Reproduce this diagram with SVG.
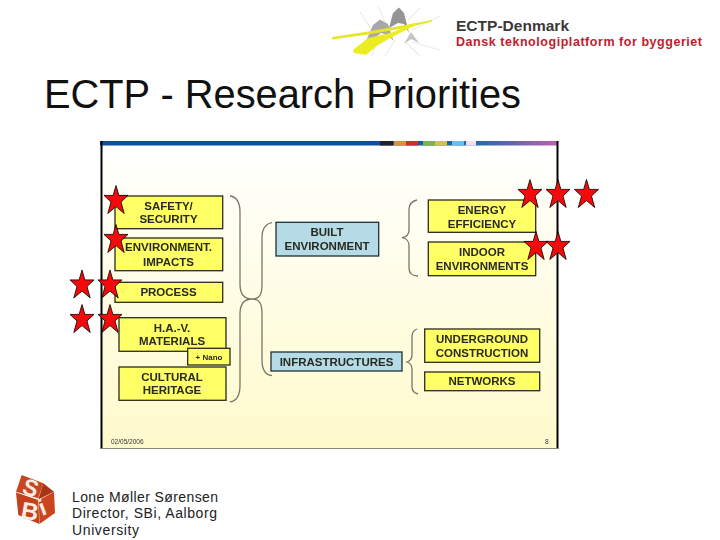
<svg xmlns="http://www.w3.org/2000/svg" width="720" height="540" viewBox="0 0 720 540">
<style>
.t{font-family:"Liberation Sans",Arial,sans-serif}
.b{font-weight:bold;font-size:11.500px;fill:#2a2a20;text-anchor:middle}
.y{fill:#ffff66;stroke:#2b2b1a;stroke-width:1.3}
.c{fill:#b5dbe6;stroke:#20303a;stroke-width:1.3}
.br{fill:none;stroke:#77786a;stroke-width:1.3}
.s{fill:#f40a0a;stroke:#000;stroke-width:.8}
</style>
<defs>
<linearGradient id="bg" x1="0" y1="0" x2="0" y2="1"><stop offset="0" stop-color="#ffffff"/><stop offset=".3" stop-color="#fffef0"/><stop offset="1" stop-color="#fffacb"/></linearGradient>
<linearGradient id="bar" x1="0" y1="0" x2="1" y2="0"><stop offset="0" stop-color="#0b4f9e"/><stop offset=".6" stop-color="#0b4f9e"/><stop offset=".84" stop-color="#2f6aa8"/><stop offset="1" stop-color="#c060b0"/></linearGradient>
<filter id="soft" x="-20%" y="-40%" width="140%" height="180%"><feGaussianBlur stdDeviation=".45"/></filter>
<filter id="soft2" x="-20%" y="-40%" width="140%" height="180%"><feGaussianBlur stdDeviation=".5"/></filter>
<polygon id="star" points="0,-14.5 2.9,-4.6 12,-4.6 5,2 8.2,13.5 0,6.6 -8.2,13.5 -5,2 -12,-4.6 -2.9,-4.6"/>
</defs>
<rect width="720" height="540" fill="#fff"/>

<g id="header-logo">
<g filter="url(#soft2)">
<g stroke="#ecece6" stroke-width="1.200" fill="none"><path d="M372 30L360 12M385 22L378 6M408 20L420 8M412 30L440 16M395 40L385 56M405 42L420 56M412 42L440 50M375 46L372 56"/></g>
<path d="M366 41L373 25L380 19.500L388 24L393.500 41L388 35L381 33L371 41Z" fill="#a8a8a8"/>
<path d="M389 28L393 13L399 7.500L404 13L409 33L404 24L398 23Z" fill="#949494"/>
<path d="M404 44L411 32L419 43L411 39Z" fill="#c4c4c4"/>
<path d="M332 37L368 31.500L408 24.500L432 20L432 21.500L408 27.500L368 34.500L332 39.500Z" fill="#e6e626"/>
<path d="M353 50L368 38L392 32.500L415 23L416 25L394 36L378 45L366 55L354 53Z" fill="#ecec22"/>
</g>
<text class="t" x="456" y="31" font-size="15.500" font-weight="bold" fill="#3a3a3a" textLength="113" lengthAdjust="spacing">ECTP-Denmark</text>
<text class="t" x="456" y="45.500" font-size="12.500" font-weight="bold" fill="#c0202c" textLength="246" lengthAdjust="spacing">Dansk teknologiplatform for byggeriet</text>
</g>

<text id="title" class="t" x="44" y="108" font-size="39.800" fill="#111">ECTP - Research Priorities</text>

<g id="slide">
<rect x="101" y="142" width="456" height="306.500" fill="url(#bg)"/>
<rect x="100" y="141" width="458" height="4.500" fill="url(#bar)"/>
<g filter="url(#soft)">
<rect x="380" y="141" width="13" height="4.500" fill="#222"/><rect x="394" y="141" width="12" height="4.500" fill="#e0903a"/><rect x="406" y="141" width="12" height="4.500" fill="#d82c2c"/><rect x="423" y="141" width="12" height="4.500" fill="#7ab648"/><rect x="435" y="141" width="12" height="4.500" fill="#d8c050"/><rect x="452" y="141" width="12" height="4.500" fill="#6cc0e8"/><rect x="466" y="141" width="10" height="4.500" fill="#f0e0f0"/>
</g>
<rect x="100.500" y="141" width="2" height="308" fill="#000"/>
<rect x="556.500" y="141" width="2" height="308" fill="#000"/>
<rect x="101" y="448" width="457" height="1" fill="#88887a"/>
<text class="t" filter="url(#soft)" x="111" y="444" font-size="6.500" fill="#334">02/05/2006</text>
<text class="t" filter="url(#soft)" x="545" y="444" font-size="6.500" fill="#334">8</text>
</g>

<g id="connectors">
<path class="br" d="M230 196C237 197 240 202 240 212L240 284C240 294 244 299 252 299C244 299 240 304 240 314L240 385C240 396 237 401 230 402"/>
<path class="br" d="M272 222.700C265 224 262 229 262 238L262 284C262 294 260 299 252 299C260 299 262 304 262 314L262 360C262 370 265 375 272 375.700"/>
<path class="br" d="M417 200C412 201 409 204 409 210L409 230C409 235 406 237 402 237.700C406 238 409 241 409 246L409 268C409 273 412 276 418 276"/>
<path class="br" d="M417 329C414 330 412 332 412 337L412 355C412 359 410 361 407 362C410 363 412 365 412 369L412 387C412 391 414 393 418 394"/>
</g>

<g id="safety"><rect class="y" x="115" y="196" width="107.700" height="32.700"/><text class="t b" filter="url(#soft)" x="168.500" y="210">SAFETY/</text><text class="t b" filter="url(#soft)" x="168.500" y="223">SECURITY</text></g>
<g id="environment"><rect class="y" x="115" y="238" width="107.700" height="32.700"/><text class="t b" filter="url(#soft)" x="168.500" y="251">ENVIRONMENT.</text><text class="t b" filter="url(#soft)" x="168.500" y="266">IMPACTS</text></g>
<g id="process"><rect class="y" x="115" y="282.300" width="107.700" height="20"/><text class="t b" filter="url(#soft)" x="168.500" y="296">PROCESS</text></g>
<g id="materials"><rect class="y" x="119" y="317.700" width="107" height="33.600"/><text class="t b" filter="url(#soft)" x="172" y="332">H.A.-V.</text><text class="t b" filter="url(#soft)" x="172" y="345">MATERIALS</text></g>
<g id="heritage"><rect class="y" x="119" y="367" width="107" height="33.300"/><text class="t b" filter="url(#soft)" x="172" y="381">CULTURAL</text><text class="t b" filter="url(#soft)" x="172" y="394">HERITAGE</text></g>
<g id="nano"><rect class="y" x="187.700" y="348.300" width="42.300" height="16.700"/><text class="t" filter="url(#soft)" x="209" y="360" font-size="8" font-weight="bold" fill="#2a2a20" text-anchor="middle">+ Nano</text></g>
<g id="built"><rect class="c" x="276" y="222.300" width="102.700" height="33.700"/><text class="t b" filter="url(#soft)" x="327" y="236">BUILT</text><text class="t b" filter="url(#soft)" x="327" y="250">ENVIRONMENT</text></g>
<g id="infrastructures"><rect class="c" x="271" y="352" width="131" height="19"/><text class="t b" filter="url(#soft)" x="336.500" y="366">INFRASTRUCTURES</text></g>
<g id="energy"><rect class="y" x="428.300" y="200" width="107.400" height="32.300"/><text class="t b" filter="url(#soft)" x="482" y="213.500">ENERGY</text><text class="t b" filter="url(#soft)" x="482" y="228">EFFICIENCY</text></g>
<g id="indoor"><rect class="y" x="428.300" y="242" width="107.400" height="33.700"/><text class="t b" filter="url(#soft)" x="482" y="256">INDOOR</text><text class="t b" filter="url(#soft)" x="482" y="269.500">ENVIRONMENTS</text></g>
<g id="underground"><rect class="y" x="424.700" y="329" width="115" height="33.300"/><text class="t b" filter="url(#soft)" x="482" y="343">UNDERGROUND</text><text class="t b" filter="url(#soft)" x="482" y="357">CONSTRUCTION</text></g>
<g id="networks"><rect class="y" x="424.700" y="372" width="115" height="18.700"/><text class="t b" filter="url(#soft)" x="482" y="385">NETWORKS</text></g>

<g id="stars">
<use class="s" href="#star" x="116" y="200"/>
<use class="s" href="#star" x="116" y="239"/>
<use class="s" href="#star" x="82" y="284.500"/>
<use class="s" href="#star" x="110" y="284.500"/>
<use class="s" href="#star" x="82" y="319"/>
<use class="s" href="#star" x="110" y="319"/>
<use class="s" href="#star" x="530" y="194"/>
<use class="s" href="#star" x="558" y="194"/>
<use class="s" href="#star" x="586.500" y="194"/>
<use class="s" href="#star" x="536" y="246"/>
<use class="s" href="#star" x="558" y="246"/>
</g>

<g id="sbi-logo">
<path d="M21.700 475L43.300 483.300L38.300 498.300L16 491.700Z" fill="#c8451e"/>
<path d="M16 492.500L38.300 500L39.300 524L18.300 515Z" fill="#c4401a"/>
<path d="M43.300 483.300L54 491.700L38.300 499.500Z" fill="#a83614"/>
<path d="M38.800 500L54 492L55 513L39.500 524Z" fill="#c8451e"/>
<text class="t" x="21" y="493" font-size="23" font-weight="bold" fill="#f8ece2" transform="rotate(18 21 493)">S</text>
<text class="t" x="20" y="518" font-size="24" font-weight="bold" fill="#f8ece2" transform="rotate(10 20 518)">B</text>
<text class="t" x="42" y="516" font-size="23" font-weight="bold" fill="#f8ece2" transform="rotate(-20 42 516)">i</text>
</g>

<g id="author" class="t" font-size="14" fill="#222">
<text x="72" y="502" textLength="146" lengthAdjust="spacing">Lone Møller Sørensen</text>
<text x="72" y="518" textLength="145" lengthAdjust="spacing">Director, SBi, Aalborg</text>
<text x="72" y="534.500" textLength="67" lengthAdjust="spacing">University</text>
</g>
</svg>
